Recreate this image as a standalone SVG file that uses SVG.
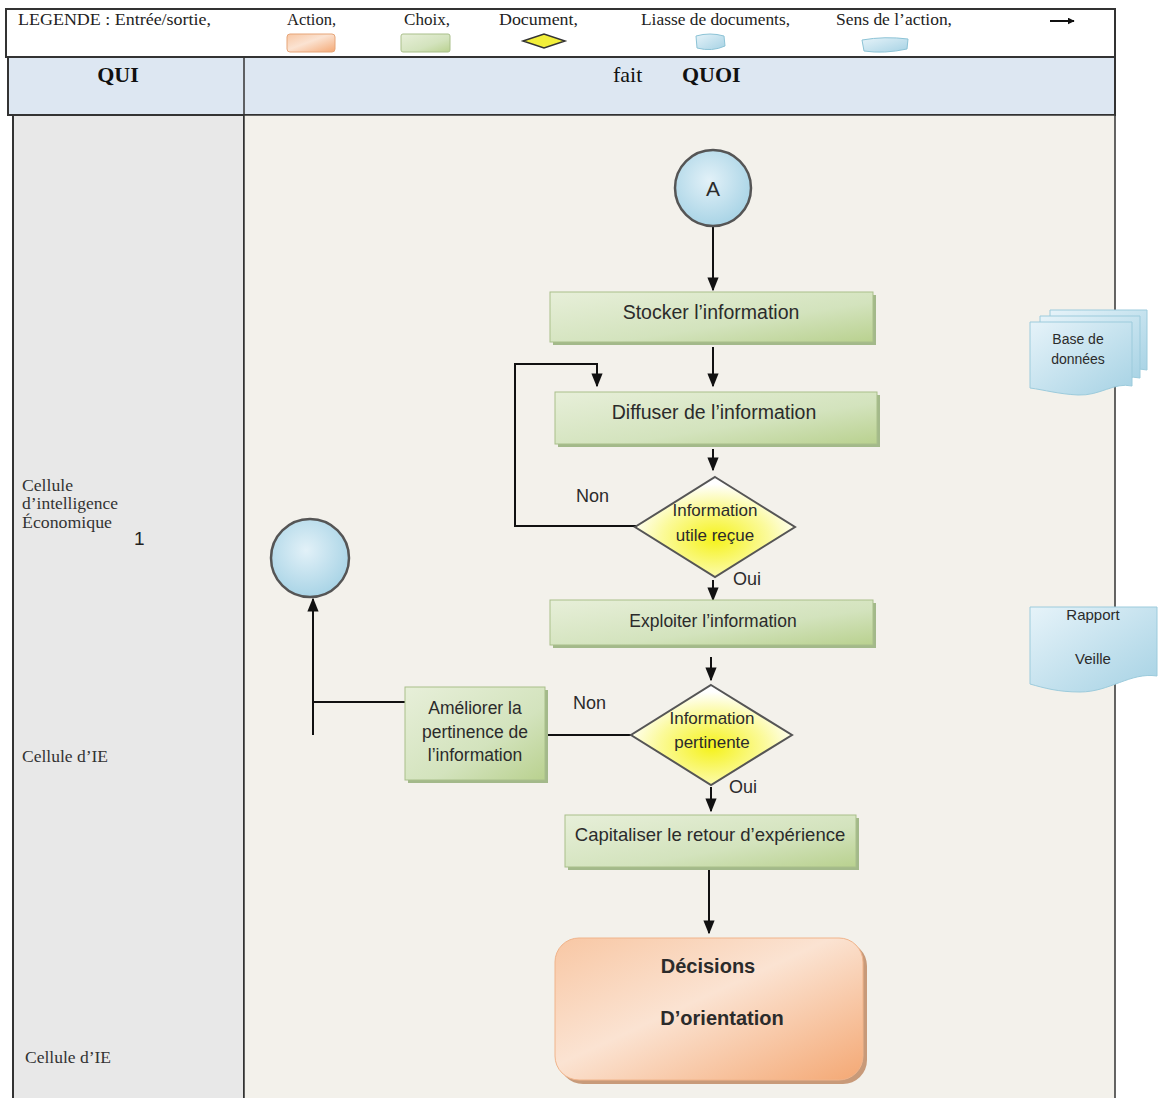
<svg xmlns="http://www.w3.org/2000/svg" width="1162" height="1098" viewBox="0 0 1162 1098">
<defs>
<style>
.lg{font-family:"Liberation Serif","Times New Roman",serif;font-size:16px;fill:#222}
.hd{font-family:"Liberation Serif","Times New Roman",serif;font-size:22px;fill:#111}
.qui{font-family:"Liberation Serif","Times New Roman",serif;font-size:16px;fill:#333}
.t{font-family:"Liberation Sans",Arial,sans-serif;fill:#2b2b2b;text-anchor:middle}
.lab{font-family:"Liberation Sans",Arial,sans-serif;fill:#2b2b2b;font-size:18px}
.act{stroke:#a9bf8a;stroke-width:1}
.cn{fill:none;stroke:#111;stroke-width:2}
</style>
<linearGradient id="gGreen" x1="0" y1="0" x2="1" y2="1">
<stop offset="0" stop-color="#e7efd9"/>
<stop offset="0.6" stop-color="#d3e3bd"/>
<stop offset="1" stop-color="#b9d18f"/>
</linearGradient>
<linearGradient id="gOrange" x1="0" y1="0" x2="1" y2="1">
<stop offset="0" stop-color="#f8c7a4"/>
<stop offset="0.45" stop-color="#fbe3d2"/>
<stop offset="1" stop-color="#f4a874"/>
</linearGradient>
<radialGradient id="gYellow" cx="0.5" cy="0.62" r="0.55">
<stop offset="0" stop-color="#f5f21a"/>
<stop offset="0.6" stop-color="#fbfa9a"/>
<stop offset="1" stop-color="#ffffff"/>
</radialGradient>
<radialGradient id="gBlue" cx="0.45" cy="0.4" r="0.6">
<stop offset="0" stop-color="#e2f1f8"/>
<stop offset="1" stop-color="#a9d4e6"/>
</radialGradient>
<linearGradient id="gDoc" x1="0" y1="0" x2="1" y2="1">
<stop offset="0" stop-color="#e6f3f9"/>
<stop offset="1" stop-color="#a6d2e4"/>
</linearGradient>
<marker id="arr" viewBox="0 0 10 10" refX="9" refY="5" markerWidth="7" markerHeight="7" markerUnits="userSpaceOnUse" orient="auto">
<path d="M0,0 L10,5 L0,10 z" fill="#111"/>
</marker>
<marker id="arrB" viewBox="0 0 10 10" refX="9" refY="5" markerWidth="14" markerHeight="14" markerUnits="userSpaceOnUse" orient="auto">
<path d="M0,1 L10,5 L0,9 z" fill="#111"/>
</marker>
</defs>

<rect x="0" y="0" width="1162" height="1098" fill="#ffffff"/>

<!-- frame / lanes -->
<g id="frame">
<rect x="6" y="9" width="1109" height="48" fill="#ffffff" stroke="#333" stroke-width="2"/>
<rect x="8" y="57" width="1107" height="58" fill="#dde7f2" stroke="#333" stroke-width="2"/>
<rect x="13" y="115" width="231" height="990" fill="#e8e8e8" stroke="#333" stroke-width="2"/>
<rect x="244" y="115" width="871" height="990" fill="#f3f1eb" stroke="#333" stroke-width="1.5"/>
<line x1="244" y1="57" x2="244" y2="115" stroke="#333" stroke-width="1.5"/>
</g>

<!-- legend -->
<g id="legend">
<text class="lg" x="18" y="25" textLength="193" lengthAdjust="spacingAndGlyphs">LEGENDE : Entrée/sortie,</text>
<text class="lg" x="287" y="25" textLength="49" lengthAdjust="spacingAndGlyphs">Action,</text>
<text class="lg" x="404" y="25" textLength="46" lengthAdjust="spacingAndGlyphs">Choix,</text>
<text class="lg" x="499" y="25" textLength="79" lengthAdjust="spacingAndGlyphs">Document,</text>
<text class="lg" x="641" y="25" textLength="149" lengthAdjust="spacingAndGlyphs">Liasse de documents,</text>
<text class="lg" x="836" y="25" textLength="116" lengthAdjust="spacingAndGlyphs">Sens de l’action,</text>
<rect x="287" y="34" width="48" height="18" rx="3" fill="url(#gOrange)" stroke="#e6a579"/>
<rect x="401" y="34" width="49" height="18" rx="2" fill="url(#gGreen)" stroke="#a9bf8a"/>
<path d="M523,41 L544,34 L565,41 L544,48 Z" fill="#f2ef3a" stroke="#333" stroke-width="1.5"/>
<path d="M696,36 Q710,32 724,36 L725,46 Q712,52 697,48 Z" fill="url(#gDoc)" stroke="#8cc3d6"/>
<path d="M862,40 Q885,36 908,39 L907,49 Q884,54 864,51 Z" fill="url(#gDoc)" stroke="#8cc3d6"/>
<line x1="1050" y1="21" x2="1074" y2="21" stroke="#111" stroke-width="2" marker-end="url(#arr)"/>
</g>

<!-- header -->
<g id="header">
<text class="hd" x="118" y="82" text-anchor="middle" font-weight="bold">QUI</text>
<text class="hd" x="613" y="82">fait</text>
<text class="hd" x="682" y="82" font-weight="bold">QUOI</text>
</g>

<!-- who labels -->
<g id="who">
<text class="qui" x="22" y="491" textLength="51" lengthAdjust="spacingAndGlyphs">Cellule</text>
<text class="qui" x="22" y="509" textLength="96" lengthAdjust="spacingAndGlyphs">d’intelligence</text>
<text class="qui" x="22" y="528" textLength="90" lengthAdjust="spacingAndGlyphs">Économique</text>
<text x="134" y="545" font-family="Liberation Sans,Arial,sans-serif" font-size="19" fill="#222">1</text>
<text class="qui" x="22" y="762" textLength="86" lengthAdjust="spacingAndGlyphs">Cellule d’IE</text>
<text class="qui" x="25" y="1063" textLength="86" lengthAdjust="spacingAndGlyphs">Cellule d’IE</text>
</g>

<!-- connectors -->
<g id="connectors">
<line class="cn" x1="713" y1="226" x2="713" y2="290" marker-end="url(#arrB)"/>
<line class="cn" x1="713" y1="347" x2="713" y2="386" marker-end="url(#arrB)"/>
<polyline class="cn" points="636,526 515,526 515,364 597,364 597,386" marker-end="url(#arrB)"/>
<line class="cn" x1="713" y1="449" x2="713" y2="470" marker-end="url(#arrB)"/>
<line class="cn" x1="713" y1="580" x2="713" y2="600" marker-end="url(#arrB)"/>
<line class="cn" x1="711" y1="657" x2="711" y2="680" marker-end="url(#arrB)"/>
<line class="cn" x1="631" y1="735" x2="546" y2="735"/>
<line class="cn" x1="405" y1="702" x2="313" y2="702"/>
<line class="cn" x1="313" y1="735" x2="313" y2="599" marker-end="url(#arrB)"/>
<line class="cn" x1="711" y1="787" x2="711" y2="811" marker-end="url(#arrB)"/>
<line class="cn" x1="709" y1="870" x2="709" y2="933" marker-end="url(#arrB)"/>
</g>

<!-- nodes -->
<g id="nodeA">
<circle cx="713" cy="188" r="38" fill="url(#gBlue)" stroke="#555" stroke-width="2.5"/>
<text class="t" x="713" y="196" font-size="21">A</text>
</g>

<g id="stocker">
<rect x="553" y="295" width="323" height="50" fill="#a3b98a"/>
<rect x="550" y="292" width="323" height="50" fill="url(#gGreen)" class="act"/>
<text class="t" x="711" y="319" font-size="19.5">Stocker l’information</text>
</g>

<g id="diffuser">
<rect x="558" y="395" width="322" height="52" fill="#a3b98a"/>
<rect x="555" y="392" width="322" height="52" fill="url(#gGreen)" class="act"/>
<text class="t" x="714" y="419" font-size="19.5">Diffuser de l’information</text>
</g>

<g id="choix1">
<path d="M715,477 L795,527 L715,577 L635,527 Z" fill="url(#gYellow)" stroke="#555" stroke-width="2"/>
<text class="t" x="715" y="516" font-size="17">Information</text>
<text class="t" x="715" y="541" font-size="17">utile reçue</text>
<text class="lab" x="576" y="502">Non</text>
<text class="lab" x="733" y="585">Oui</text>
</g>

<g id="exploiter">
<rect x="553" y="603" width="323" height="45" fill="#a3b98a"/>
<rect x="550" y="600" width="323" height="45" fill="url(#gGreen)" class="act"/>
<text class="t" x="713" y="627" font-size="17.5">Exploiter l’information</text>
</g>

<g id="choix2">
<path d="M711,685 L792,735 L711,785 L631,735 Z" fill="url(#gYellow)" stroke="#555" stroke-width="2"/>
<text class="t" x="712" y="724" font-size="17">Information</text>
<text class="t" x="712" y="748" font-size="17">pertinente</text>
<text class="lab" x="573" y="709">Non</text>
<text class="lab" x="729" y="793">Oui</text>
</g>

<g id="ameliorer">
<rect x="408" y="690" width="140" height="93" fill="#a3b98a"/>
<rect x="405" y="687" width="140" height="93" fill="url(#gGreen)" class="act"/>
<text class="t" x="475" y="714" font-size="17.5">Améliorer la</text>
<text class="t" x="475" y="738" font-size="17.5">pertinence de</text>
<text class="t" x="475" y="761" font-size="17.5">l’information</text>
</g>

<g id="sortie">
<circle cx="310" cy="558" r="39" fill="url(#gBlue)" stroke="#555" stroke-width="2.5"/>
</g>

<g id="capitaliser">
<rect x="568" y="818" width="291" height="52" fill="#a3b98a"/>
<rect x="565" y="815" width="291" height="52" fill="url(#gGreen)" class="act"/>
<text class="t" x="710" y="841" font-size="18.5">Capitaliser le retour d’expérience</text>
</g>

<g id="decisions">
<rect x="559" y="942" width="308" height="142" rx="24" fill="#c89a79"/>
<rect x="555" y="938" width="308" height="142" rx="24" fill="url(#gOrange)" stroke="#f0b48b" stroke-width="1"/>
<text class="t" x="708" y="973" font-size="20" font-weight="bold">Décisions</text>
<text class="t" x="722" y="1025" font-size="20" font-weight="bold">D’orientation</text>
</g>

<g id="basedonnees">
<path d="M1050,310 H1147 V370 C1130,366 1120,378 1100,377 C1080,376 1065,374 1050,372 Z" fill="url(#gDoc)" stroke="#9ccbdc"/>
<path d="M1040,316 H1140 V378 C1122,374 1110,386 1090,385 C1070,384 1055,382 1040,380 Z" fill="url(#gDoc)" stroke="#9ccbdc"/>
<path d="M1030,322 H1132 V386 C1114,382 1100,396 1078,395 C1058,394 1045,390 1030,388 Z" fill="url(#gDoc)" stroke="#9ccbdc"/>
<text class="t" x="1078" y="344" font-size="14">Base de</text>
<text class="t" x="1078" y="364" font-size="14">données</text>
</g>

<g id="rapport">
<path d="M1030,607 H1157 V676 C1130,672 1110,692 1080,692 C1058,692 1044,688 1030,684 Z" fill="url(#gDoc)" stroke="#9ccbdc"/>
<text class="t" x="1093" y="620" font-size="15">Rapport</text>
<text class="t" x="1093" y="664" font-size="15">Veille</text>
</g>
</svg>
